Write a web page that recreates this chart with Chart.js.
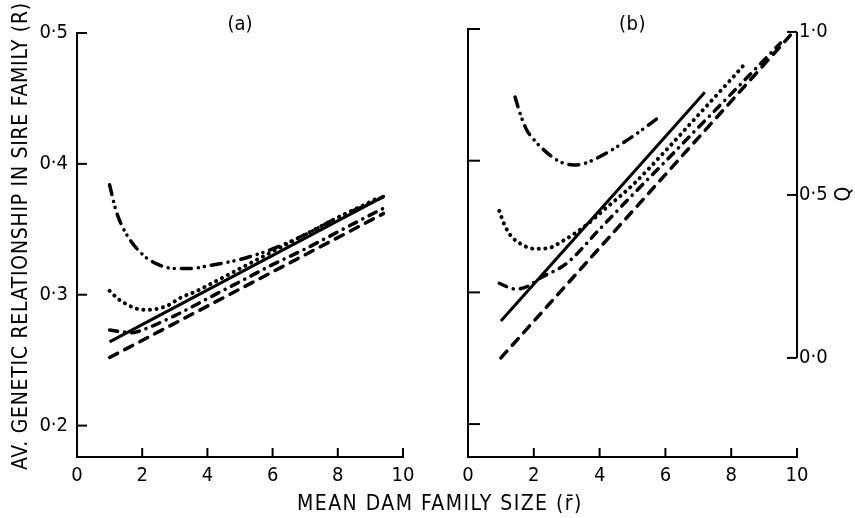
<!DOCTYPE html>
<html>
<head>
<meta charset="utf-8">
<script src="https://cdn.jsdelivr.net/npm/chart.js@4.4.1/dist/chart.umd.min.js"></script>
<style>
  html, body { margin: 0; padding: 0; background: #fff; }
  #wrap { position: relative; width: 855px; height: 518px; }
  #wrap canvas { position: absolute; left: 0; top: 0; }
</style>
</head>
<body>
<div id="wrap">
  <canvas id="chartA" width="855" height="518"></canvas>
  <canvas id="chartB" width="855" height="518"></canvas>
</div>
<script>
// tick values
const xTicks = [0, 2, 4, 6, 8, 10];
const rTicks = [0.2, 0.3, 0.4, 0.5];
const qTicks = [0, 0.5, 1.0];

// panel (a): average relationship R against mean dam family size
const aSolidX = [1.0, 9.4];
const aSolidR = [0.264, 0.375];
const aDashX = [1.0, 9.4];
const aDashR = [0.252, 0.362];
const aDotX = [1.0, 1.25, 1.5, 1.75, 2.0, 2.4, 2.8, 3.2, 3.6, 4, 5, 6, 7, 8, 9, 9.3];
const aDotR = [0.303, 0.297, 0.293, 0.290, 0.2885, 0.289, 0.292, 0.298, 0.302, 0.307, 0.320, 0.333, 0.346, 0.359, 0.371, 0.375];
const aDashDotX = [1.0, 1.3, 1.7, 2.0, 3, 4, 5, 6, 7, 8, 9, 9.4];
const aDashDotR = [0.273, 0.272, 0.271, 0.273, 0.284, 0.297, 0.310, 0.323, 0.335, 0.348, 0.361, 0.366];
const aDashDotDotX = [1.0, 1.2, 1.5, 2.0, 2.5, 3.0, 3.5, 4, 5, 6, 7, 8, 9, 9.4];
const aDashDotDotR = [0.384, 0.364, 0.347, 0.331, 0.323, 0.320, 0.320, 0.322, 0.327, 0.335, 0.346, 0.359, 0.370, 0.375];

// panel (b): Q against mean dam family size
const bSolidX = [1.0, 7.2];
const bSolidQ = [0.113, 0.815];
const bDashX = [1.0, 9.8];
const bDashQ = [0.0, 0.99];
const bDotX = [0.95, 1.1, 1.3, 1.6, 2.0, 2.4, 2.9, 3.5, 4.2, 5, 6, 7, 8, 8.4];
const bDotQ = [0.451, 0.41, 0.375, 0.35, 0.335, 0.336, 0.36, 0.40, 0.46, 0.53, 0.635, 0.745, 0.855, 0.90];
const bDashDotX = [0.95, 1.2, 1.45, 1.8, 2.2, 3, 4, 5, 6, 7, 8, 9, 9.5];
const bDashDotQ = [0.229, 0.218, 0.211, 0.219, 0.245, 0.29, 0.395, 0.50, 0.603, 0.707, 0.81, 0.914, 0.966];
const bDashDotDotX = [1.43, 1.6, 1.78, 2.0, 2.2, 2.7, 3.2, 3.5, 4.2, 5.0, 5.8];
const bDashDotDotQ = [0.80, 0.745, 0.70, 0.67, 0.648, 0.607, 0.592, 0.595, 0.628, 0.679, 0.738];

const FONT = '"DejaVu Sans Condensed", "DejaVu Sans", sans-serif';
Chart.defaults.font.family = FONT;
Chart.defaults.font.size = 20;
Chart.defaults.color = '#000';

const zip = (xs, ys) => xs.map((x, i) => ({ x: x, y: ys[i] }));
const fmt = v => v.toFixed(1).replace('.', '\u00b7');
const setTicks = vals => s => { s.ticks = vals.map(v => ({ value: v })); };

const styles = {
  solid:      { borderWidth: 3, borderDash: [], borderCapStyle: 'butt' },
  dash:       { borderWidth: 3.5, borderDash: [9, 8], borderCapStyle: 'round' },
  dot:        { borderWidth: 4, borderDash: [0.1, 6.5], borderCapStyle: 'round' },
  dashDot:    { borderWidth: 3.5, borderDash: [8, 7, 0.1, 7], borderCapStyle: 'round' },
  dashDotDot: { borderWidth: 3.5, borderDash: [10, 7, 0.1, 6, 0.1, 7], borderCapStyle: 'round' }
};

function line(label, xs, ys, style, axis) {
  return Object.assign({
    label: label,
    data: zip(xs, ys),
    borderColor: '#000',
    pointRadius: 0,
    fill: false,
    cubicInterpolationMode: 'monotone',
    yAxisID: axis
  }, styles[style]);
}

// text with letter spacing stretched to a target width
function spacedText(ctx, text, x, y, width, angle, size) {
  ctx.save();
  ctx.font = size + 'px ' + FONT;
  ctx.fillStyle = '#000';
  ctx.translate(x, y);
  ctx.rotate(angle);
  ctx.letterSpacing = '0px';
  const w0 = ctx.measureText(text).width;
  const n = text.replace(/\p{M}/gu, '').length;
  const ls = Math.max(0, (width - w0) / n);
  ctx.letterSpacing = ls.toFixed(2) + 'px';
  ctx.textAlign = 'left';
  ctx.textBaseline = 'middle';
  ctx.fillText(text, -width / 2, 0);
  ctx.restore();
}

// short tick marks drawn inwards from the axes
const inwardTicks = {
  id: 'inwardTicks',
  afterDatasetsDraw(chart, args, opts) {
    const ctx = chart.ctx;
    ctx.save();
    ctx.strokeStyle = '#000';
    ctx.lineWidth = 2;
    (opts.marks || []).forEach(m => {
      const s = chart.scales[m.axis];
      m.values.forEach(v => {
        const p = s.getPixelForValue(v);
        ctx.beginPath();
        if (s.isHorizontal()) {
          ctx.moveTo(p, s.top); ctx.lineTo(p, s.top - m.len);
        } else if (s.position === 'left') {
          ctx.moveTo(s.right, p); ctx.lineTo(s.right + m.len, p);
        } else {
          ctx.moveTo(s.left, p); ctx.lineTo(s.left - m.len, p);
        }
        ctx.stroke();
      });
      if (m.spine) {
        ctx.beginPath();
        ctx.moveTo(s.left, s.getPixelForValue(m.spine[0]));
        ctx.lineTo(s.left, s.getPixelForValue(m.spine[1]));
        ctx.stroke();
      }
    });
    ctx.restore();
  }
};

const labels = {
  id: 'labels',
  afterDraw(chart, args, opts) {
    const ctx = chart.ctx;
    const a = chart.chartArea;
    (opts.items || []).forEach(t => {
      const x = t.x === 'mid' ? (a.left + a.right) / 2 : t.x;
      spacedText(ctx, t.text, x, t.y, t.w, t.angle || 0, t.size);
    });
  }
};

function xAxis() {
  return {
    type: 'linear', min: 0, max: 10,
    afterBuildTicks: setTicks(xTicks),
    afterFit: s => { s.height = 61; },
    grid: { display: true, drawOnChartArea: false, drawTicks: false },
    border: { display: true, color: '#000', width: 2 },
    ticks: { padding: 7, callback: v => String(v), maxRotation: 0 }
  };
}

new Chart(document.getElementById('chartA'), {
  type: 'line',
  data: {
    datasets: [
      line('solid', aSolidX, aSolidR, 'solid', 'y'),
      line('dashed', aDashX, aDashR, 'dash', 'y'),
      line('dotted', aDotX, aDotR, 'dot', 'y'),
      line('dash-dot', aDashDotX, aDashDotR, 'dashDot', 'y'),
      line('dash-dot-dot', aDashDotDotX, aDashDotDotR, 'dashDotDot', 'y')
    ]
  },
  options: {
    responsive: false,
    animation: false,
    devicePixelRatio: 1,
    layout: { padding: { top: 33, right: 452, left: 0, bottom: 0 } },
    plugins: {
      legend: { display: false },
      tooltip: { enabled: false },
      inwardTicks: { marks: [
        { axis: 'x', values: [2, 4, 6, 8, 10], len: 9 },
        { axis: 'y', values: rTicks, len: 10 }
      ] },
      labels: { items: [
        { text: '(a)', x: 'mid', y: 25, w: 25, size: 20 },
        { text: 'AV. GENETIC RELATIONSHIP IN SIRE FAMILY (R)', x: 22, y: 236, w: 468, angle: -Math.PI / 2, size: 21 }
      ] }
    },
    scales: {
      x: xAxis(),
      y: {
        type: 'linear', min: 0.176, max: 0.5,
        afterBuildTicks: setTicks(rTicks),
        afterFit: s => { s.width = 77; },
        grid: { display: true, drawOnChartArea: false, drawTicks: false },
        border: { display: true, color: '#000', width: 2 },
        ticks: { padding: 9, callback: v => fmt(v) }
      }
    }
  },
  plugins: [inwardTicks, labels]
});

new Chart(document.getElementById('chartB'), {
  type: 'line',
  data: {
    datasets: [
      line('solid', bSolidX, bSolidQ, 'solid', 'q'),
      line('dashed', bDashX, bDashQ, 'dash', 'q'),
      line('dotted', bDotX, bDotQ, 'dot', 'q'),
      line('dash-dot', bDashDotX, bDashDotQ, 'dashDot', 'q'),
      line('dash-dot-dot', bDashDotDotX, bDashDotDotQ, 'dashDotDot', 'q')
    ]
  },
  options: {
    responsive: false,
    animation: false,
    devicePixelRatio: 1,
    layout: { padding: { top: 29, right: 0, left: 0, bottom: 0 } },
    plugins: {
      legend: { display: false },
      tooltip: { enabled: false },
      inwardTicks: { marks: [
        { axis: 'x', values: [2, 4, 6, 8, 10], len: 9 },
        { axis: 'y', values: rTicks, len: 12 },
        { axis: 'q', values: qTicks, len: 10, spine: [0, 1] }
      ] },
      labels: { items: [
        { text: '(b)', x: 'mid', y: 25, w: 27, size: 20 },
        { text: 'MEAN DAM FAMILY SIZE (r\u0304)', x: 440, y: 505, w: 286, size: 21 },
        { text: 'Q', x: 845, y: 193, w: 17, angle: -Math.PI / 2, size: 21 }
      ] }
    },
    scales: {
      x: xAxis(),
      y: {
        type: 'linear', position: 'left', min: 0.175, max: 0.5,
        afterBuildTicks: setTicks(rTicks),
        afterFit: s => { s.width = 468; },
        grid: { display: true, drawOnChartArea: false, drawTicks: false },
        border: { display: true, color: '#000', width: 2 },
        ticks: { display: false }
      },
      q: {
        type: 'linear', position: 'right', min: -0.304, max: 1.009,
        afterBuildTicks: setTicks(qTicks),
        afterFit: s => { s.width = 58; },
        grid: { display: false, drawTicks: false },
        border: { display: false },
        ticks: { padding: 2, callback: v => fmt(v) }
      }
    }
  },
  plugins: [inwardTicks, labels]
});
</script>
</body>
</html>
